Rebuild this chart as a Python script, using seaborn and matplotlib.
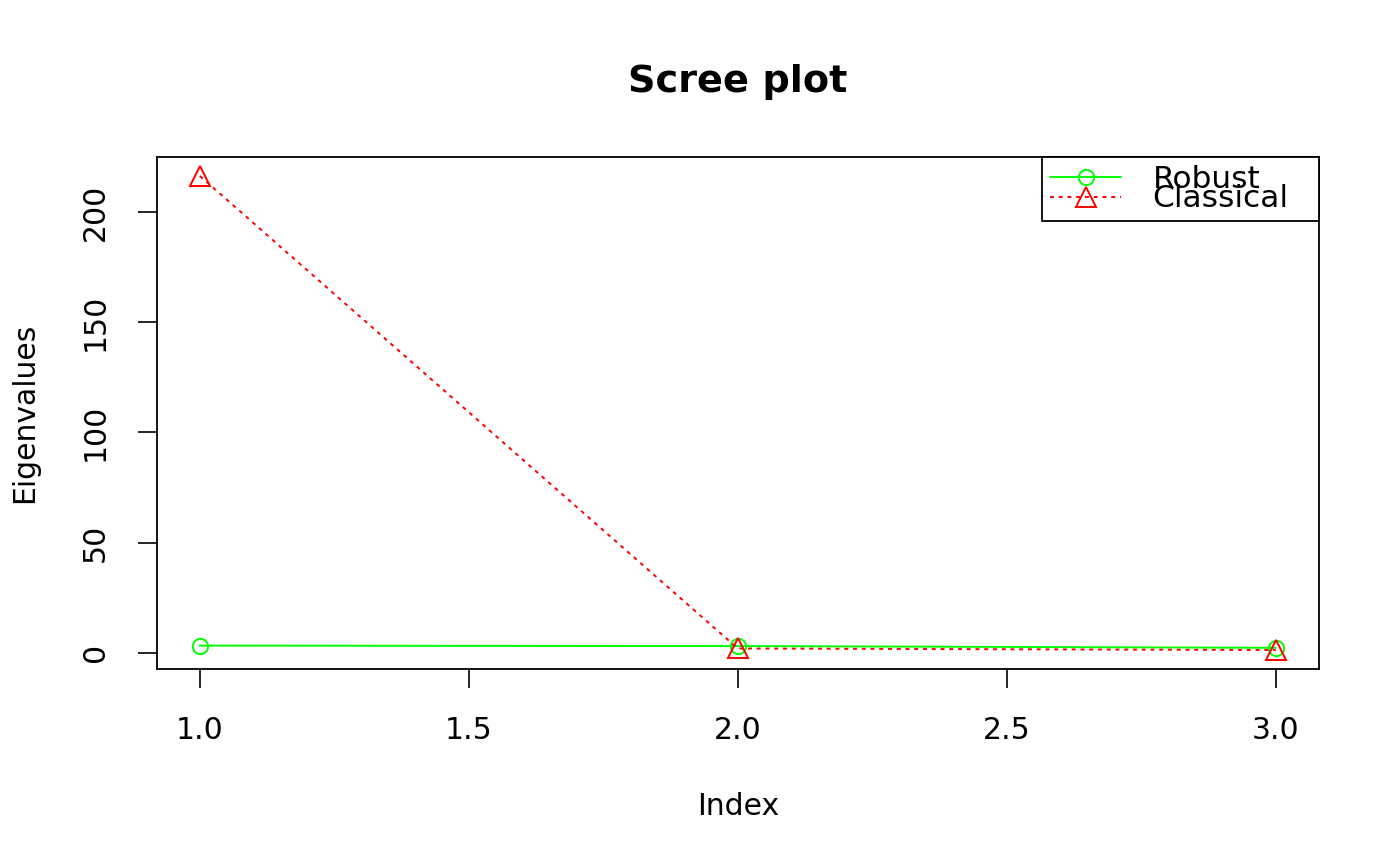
import numpy as np
import pandas as pd
import matplotlib
matplotlib.use("Agg")
import matplotlib.pyplot as plt
import seaborn as sns

# eigenvalues
index = [1, 2, 3]
robust = [3.2, 3.0, 2.2]
classical = [216.5, 1.9, 1.2]

sns.set_theme(style="ticks")
plt.rcParams['font.family'] = ['DejaVu Sans']
plt.rcParams['text.color'] = 'black'
plt.rcParams['axes.labelcolor'] = 'black'

df = pd.DataFrame({'Index': index, 'Robust': robust, 'Classical': classical})

fig = plt.figure(figsize=(14, 8.66), dpi=100)
ax = fig.add_axes([0.112, 0.2275, 0.830, 0.5912])

sns.lineplot(data=df, x='Index', y='Robust', ax=ax, color='#00ff00',
             linewidth=1.4, marker='o', markersize=11, mfc='none',
             mec='#00ff00', mew=1.4, label='Robust')
sns.lineplot(data=df, x='Index', y='Classical', ax=ax, color='#ff0000',
             linewidth=1.4, linestyle=(0, (2, 2.5)), marker='^', markersize=14,
             mfc='none', mec='#ff0000', mew=1.4, label='Classical')

# R style 4% padding
lo = min(min(robust), min(classical))
hi = max(max(robust), max(classical))
pad = 0.04 * (hi - lo)
ax.set_ylim(lo - pad, hi + pad)
ax.set_xlim(1 - 0.08, 3 + 0.08)
ax.set_xticks([1.0, 1.5, 2.0, 2.5, 3.0])
ax.set_xticklabels(['1.0', '1.5', '2.0', '2.5', '3.0'])
ax.set_yticks([0, 50, 100, 150, 200])
ax.set_yticklabels(['0', '50', '100', '150', '200'], rotation=90, va='center')

ax.tick_params(axis='both', direction='out', length=14, width=1.2,
               labelsize=21.5, pad=20, colors='black')
for s in ax.spines.values():
    s.set_visible(True)
    s.set_linewidth(1.3)
    s.set_color('black')

ax.set_xlabel('Index', fontsize=21.5, labelpad=34)
ax.set_ylabel('Eigenvalues', fontsize=21.5, labelpad=30)
ax.set_title('Scree plot', fontsize=27.5, fontweight='bold', pad=47,
             color='black')

leg = ax.legend(loc='upper left', bbox_to_anchor=(0.7616, 0.877, 0.2384, 0.123),
                mode='expand', borderaxespad=0, fontsize=22.5,
                frameon=True, fancybox=False, edgecolor='black',
                framealpha=1, labelspacing=-0.3, handlelength=2.3,
                handletextpad=1.0, borderpad=0.25)
leg.get_frame().set_linewidth(1.3)
for t in leg.get_texts():
    t.set_color('black')

fig.savefig('out.png', dpi=100)
